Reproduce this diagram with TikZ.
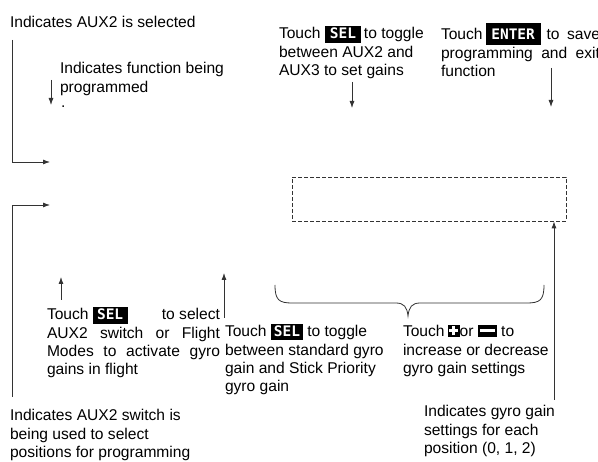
\documentclass[tikz,border=0pt]{standalone}
\usepackage{fontspec}
\setmainfont{Liberation Sans}
\newfontfamily\keyfam{DejaVu Sans Mono}
\usetikzlibrary{arrows.meta}
\newcommand\tstrut{\rule{0pt}{18pt}}
% #1 width, #2 height above baseline, #3 depth, #4 text
\newcommand\keybox[4]{\leavevmode\rlap{\rule[-#3]{#1}{\dimexpr#2+#3\relax}}\makebox[#1]{\textcolor{white}{\keyfam\bfseries\fontsize{14.5}{14.5}\selectfont #4}}}
\newcommand\plusbox{\leavevmode\rlap{\rule{12pt}{12pt}}\rlap{\hspace{1.5pt}\textcolor{white}{\rule[4.5pt]{9pt}{3pt}}}\hspace{4.5pt}\textcolor{white}{\rule[1.5pt]{3pt}{9pt}}\hspace{4.5pt}}
\newcommand\minusbox{\leavevmode\rlap{\rule{19pt}{12pt}}\hspace{2pt}\textcolor{white}{\rule[4.5pt]{15pt}{3pt}}\hspace{2pt}}
\tikzset{
  lbl/.style={anchor=north west, inner sep=0pt, outer sep=0pt,
    font=\fontsize{15.6}{18.3}\selectfont, align=left},
  jlbl/.style={lbl, align=justify, text width=#1},
  pointer/.style={draw=black!80, line width=0.8pt, -{Latex[length=7pt,width=5pt]}},
  dashbox/.style={draw=black!80, line width=0.8pt, dash pattern=on 4pt off 2pt,
    inner sep=0pt, minimum width=274pt, minimum height=44pt},
  bracecurve/.style={draw=black!80, line width=0.8pt}
}
\begin{document}
\begin{tikzpicture}[x=1pt, y=-1pt]
\useasboundingbox (0,0) rectangle (598,462);
\fill[white] (0,0) rectangle (598,462);

% texts
\node[lbl] (selAux) at (10,10) {\tstrut Indicates AUX2 is selected};
\node[lbl] (funcTxt) at (60,56) {\tstrut Indicates function being\\programmed};
\node[anchor=base west, inner sep=0pt, font=\fontsize{15.6}{18.3}\selectfont] (dot) at (61,108) {.};
\node[lbl] (selTop) at (279,21) {\tstrut Touch \keybox{36pt}{13pt}{4pt}{SEL}\hspace{3pt}to toggle\\between AUX2 and\\AUX3 to set gains};
\node[jlbl=159pt] (enterTop) at (441,22) {\noindent\tstrut Touch\hspace{3pt}\keybox{55pt}{17pt}{5pt}{ENTER}\hspace{6pt}to save\linebreak programming and exit\linebreak function};
\node[jlbl=173pt] (selLeft) at (47,302) {\noindent\tstrut Touch\hspace{4pt}\keybox{35pt}{13pt}{4pt}{SEL}\hfill to select\linebreak AUX2 switch or Flight\linebreak Modes to activate gyro\linebreak gains in flight};
\node[lbl] (selMid) at (225,319) {\tstrut Touch \keybox{32pt}{13pt}{3pt}{SEL} to toggle\\between standard gyro\\gain and Stick Priority\\gyro gain};
\node[lbl] (plusTxt) at (403,319) {\tstrut Touch\hspace{3pt}\plusbox or \minusbox{} to\\increase or decrease\\gyro gain settings};
\node[lbl] (gainTxt) at (424,399) {\tstrut Indicates gyro gain\\settings for each\\position (0, 1, 2)};
\node[lbl] (auxSwTxt) at (10,403) {\tstrut Indicates AUX2 switch is\\being used to select\\positions for programming};

% dashed gain field
\node[dashbox] (gainbox) at (429,199) {};

% coordinates
\coordinate (b1top) at (12,40);
\coordinate (b1corner) at (12,162);
\coordinate (b1tip) at (50,162);
\coordinate (b2bot) at (12,397);
\coordinate (b2corner) at (12,205);
\coordinate (b2tip) at (50,205);
\coordinate (fA) at (51,80);
\coordinate (fB) at (51,105);
\coordinate (sA) at (352,82);
\coordinate (sB) at (352,108);
\coordinate (eA) at (551,68);
\coordinate (eB) at (551,107);
\coordinate (lA) at (61,300);
\coordinate (lB) at (61,277);
\coordinate (mA) at (224,318);
\coordinate (mB) at (224,273);
\coordinate (gA) at (554,400);
\coordinate (gB) at (gainbox.south -| gA);

% connectors
\draw[pointer] (b1top) -- (b1corner) -- (b1tip);
\draw[pointer] (b2bot) -- (b2corner) -- (b2tip);
\draw[pointer] (fA) -- (fB);
\draw[pointer] (sA) -- (sB);
\draw[pointer] (eA) -- (eB);
\draw[pointer] (lA) -- (lB);
\draw[pointer] (mA) -- (mB);
\draw[pointer] (gA) -- (gB);

% brace
\coordinate (brL) at (275,285);
\coordinate (brR) at (544,285);
\coordinate (brTip) at (408,316);
\draw[bracecurve] (brL) .. controls (275,300) and (279,303) .. (292,303)
  -- (396,303) .. controls (404,303) and (407,307) .. (brTip)
  .. controls (409,307) and (412,303) .. (420,303)
  -- (527,303) .. controls (540,303) and (544,300) .. (brR);
\end{tikzpicture}
\end{document}
